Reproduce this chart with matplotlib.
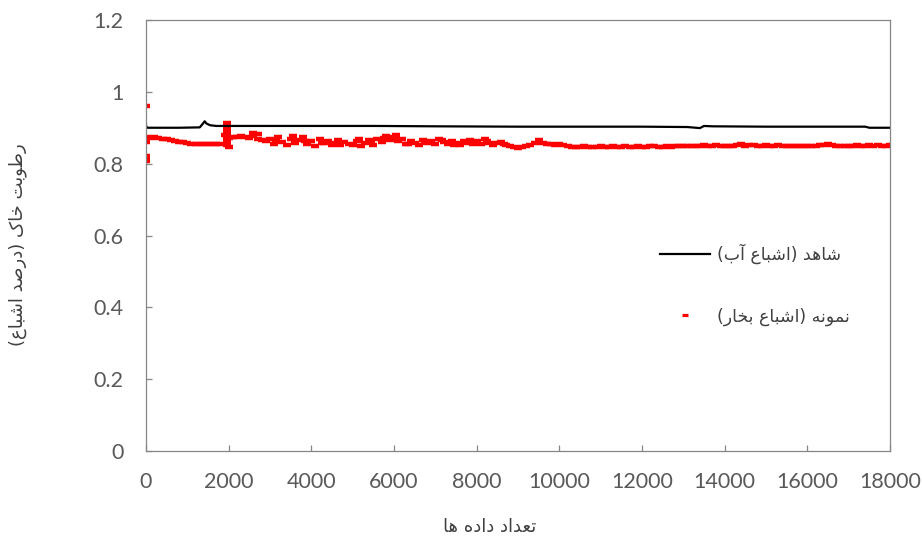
import numpy as np
import matplotlib
matplotlib.use("Agg")
import matplotlib.pyplot as plt
from matplotlib.ticker import FuncFormatter

plt.rcParams['font.family'] = ['Lato', 'DejaVu Sans']

# --- Persian labels (logical order) ---
x_title = "تعداد داده ها"
y_title = "رطوبت خاک (درصد اشباع)"
label_control = "شاهد (اشباع آب)"
label_sample = "نمونه (اشباع بخار)"

# --- control series (black line) ---
control_x = [0, 0, 30, 300, 800, 1300, 1380, 1420, 1460, 1550, 1700, 2500, 4000,
             5600, 7000, 9000, 10500, 12000, 13100, 13400, 13500, 13700, 15000,
             16500, 17400, 17500, 18000]
control_y = [0.910, 0.905, 0.900, 0.900, 0.900, 0.901, 0.912, 0.918, 0.912, 0.907,
             0.905, 0.905, 0.905, 0.905, 0.904, 0.903, 0.903, 0.903, 0.902, 0.899,
             0.905, 0.904, 0.903, 0.903, 0.903, 0.900, 0.900]

# --- sample series (red dashes), one reading every 100 samples ---
sample_step = 100
sample_y = [
    0.868, 0.872, 0.873, 0.871, 0.870, 0.869, 0.866, 0.863, 0.861, 0.860,
    0.858, 0.856, 0.856, 0.855, 0.855, 0.855, 0.856, 0.855, 0.856, 0.880,
    0.872, 0.874, 0.873, 0.876, 0.875, 0.872, 0.878, 0.870, 0.866, 0.862,
    0.868, 0.856, 0.874, 0.860, 0.852, 0.870, 0.858, 0.866, 0.874, 0.855,
    0.862, 0.850, 0.868, 0.857, 0.864, 0.853, 0.858, 0.851, 0.860, 0.855,
    0.852, 0.862, 0.848, 0.858, 0.866, 0.852, 0.870, 0.860, 0.878, 0.866,
    0.874, 0.862, 0.868, 0.855, 0.864, 0.858, 0.852, 0.866, 0.858, 0.862,
    0.856, 0.868, 0.860, 0.855, 0.862, 0.857, 0.852, 0.864, 0.858, 0.856,
    0.862, 0.855, 0.868, 0.857, 0.851, 0.858, 0.860, 0.852, 0.848, 0.846,
    0.845, 0.846, 0.850, 0.852, 0.858, 0.865, 0.858, 0.855, 0.856, 0.852,
    0.855, 0.853, 0.848, 0.847, 0.846, 0.847, 0.848, 0.847, 0.846, 0.847,
    0.848, 0.847, 0.846, 0.849, 0.847, 0.846, 0.848, 0.847, 0.846, 0.848,
    0.847, 0.846, 0.848, 0.850, 0.847, 0.846, 0.848, 0.847, 0.849, 0.848,
    0.849, 0.848, 0.850, 0.849, 0.848, 0.851, 0.849, 0.850, 0.852, 0.849,
    0.850, 0.849, 0.850, 0.851, 0.854, 0.850, 0.851, 0.853, 0.850, 0.849,
    0.853, 0.850, 0.849, 0.853, 0.850, 0.849, 0.850, 0.849, 0.850, 0.849,
    0.850, 0.849, 0.850, 0.851, 0.853, 0.854, 0.851, 0.850, 0.850, 0.850,
    0.850, 0.850, 0.851, 0.850, 0.850, 0.851, 0.850, 0.851, 0.850, 0.850,
    0.851,
]
# scattered readings at the start, the jump near 1950 and the noisy middle part
extra_x = [0, 0, 0, 0, 0, 0,
           1950, 1950, 1950, 1950, 1950, 1950, 1950, 1950, 2000,
           2600, 2700, 3150, 3550, 3850, 4250, 4650, 5150, 5450, 5750, 6050,
           6350, 6750, 7150, 7450, 7850, 8250, 8650]
extra_y = [0.960, 0.822, 0.815, 0.808, 0.860, 0.875,
           0.912, 0.905, 0.898, 0.890, 0.882, 0.872, 0.862, 0.852, 0.847,
           0.884, 0.882, 0.866, 0.878, 0.862, 0.858, 0.866, 0.868, 0.860, 0.872,
           0.880, 0.854, 0.860, 0.865, 0.852, 0.866, 0.864, 0.855]

x_ticks = list(range(0, 18001, 2000))
y_ticks = [0, 0.2, 0.4, 0.6, 0.8, 1.0, 1.2]

# minimal Arabic/Persian shaping (matplotlib has no bidi/shaping)
FORMS = {
    'ا': ('\uFE8D', '\uFE8E', None, None),
    'آ': ('\uFE81', '\uFE82', None, None),
    'ب': ('\uFE8F', '\uFE90', '\uFE91', '\uFE92'),
    'ت': ('\uFE95', '\uFE96', '\uFE97', '\uFE98'),
    'خ': ('\uFEA5', '\uFEA6', '\uFEA7', '\uFEA8'),
    'د': ('\uFEA9', '\uFEAA', None, None),
    'ر': ('\uFEAD', '\uFEAE', None, None),
    'ش': ('\uFEB5', '\uFEB6', '\uFEB7', '\uFEB8'),
    'ص': ('\uFEB9', '\uFEBA', '\uFEBB', '\uFEBC'),
    'ط': ('\uFEC1', '\uFEC2', '\uFEC3', '\uFEC4'),
    'ع': ('\uFEC9', '\uFECA', '\uFECB', '\uFECC'),
    'م': ('\uFEE1', '\uFEE2', '\uFEE3', '\uFEE4'),
    'ن': ('\uFEE5', '\uFEE6', '\uFEE7', '\uFEE8'),
    'ه': ('\uFEE9', '\uFEEA', '\uFEEB', '\uFEEC'),
    'و': ('\uFEED', '\uFEEE', None, None),
    'ک': ('\u06A9', '\uFB8F', '\uFB90', '\uFB91'),
}


def fa(text):
    out = []
    for i, c in enumerate(text):
        if c not in FORMS:
            out.append(c)
            continue
        iso, fin, ini, med = FORMS[c]
        prev = text[i - 1] if i > 0 else ''
        nxt = text[i + 1] if i + 1 < len(text) else ''
        jp = prev in FORMS and FORMS[prev][2] is not None
        jn = ini is not None and nxt in FORMS
        if jp and jn:
            out.append(med)
        elif jp:
            out.append(fin)
        elif jn:
            out.append(ini)
        else:
            out.append(iso)
    vis = ''.join(reversed(out))
    return vis.translate(str.maketrans('()', ')('))


grey = '#868686'
text_grey = '#595959'

fig = plt.figure(figsize=(9.22, 5.40), dpi=100)
ax = fig.add_axes([146 / 922, 1 - 451 / 540, 744 / 922, 431 / 540])

sample_x = np.arange(len(sample_y)) * sample_step
red_x = np.concatenate([sample_x, extra_x])
red_y = np.concatenate([sample_y, extra_y])
h_red, = ax.plot(red_x, red_y, linestyle='none', marker='_', color='#ff0000',
                 markersize=6, markeredgewidth=3.2, label=fa(label_sample))
h_blk, = ax.plot(control_x, control_y, color='black', linewidth=1.6,
                 label=fa(label_control))

ax.set_xlim(0, 18000)
ax.set_ylim(0, 1.2)
ax.set_xticks(x_ticks)
ax.set_yticks(y_ticks)
ax.yaxis.set_major_formatter(FuncFormatter(lambda v, p: f'{v:g}'))
ax.tick_params(direction='in', length=4, width=0.9, color=grey,
               labelcolor=text_grey, labelsize=15.5)
ax.tick_params(axis='x', pad=15)
ax.tick_params(axis='y', pad=16)
for s in ax.spines.values():
    s.set_color(grey)
    s.set_linewidth(0.9)

fig.text(490 / 922, 1 - 527 / 540, fa(x_title), ha='center', va='center',
         fontsize=13, color='#404040', family='DejaVu Sans')
fig.text(18 / 922, 1 - 245 / 540, fa(y_title), ha='center', va='center',
         rotation=90, fontsize=13, color='#404040', family='DejaVu Sans')

leg = ax.legend(handles=[h_blk, h_red], loc='center left',
                bbox_to_anchor=((660 - 146) / 744, (451 - 284.5) / 431),
                frameon=False, borderpad=0, borderaxespad=0,
                handlelength=2.9, handletextpad=0.4, labelspacing=2.5,
                prop={'family': 'DejaVu Sans', 'size': 12.5})
for t in leg.get_texts():
    t.set_color('#404040')
# keep the legend key a small dash like the reference
leg.legend_handles[1].set_markersize(5)
leg.legend_handles[1].set_markeredgewidth(2.3)

fig.savefig('out.png', dpi=100)
